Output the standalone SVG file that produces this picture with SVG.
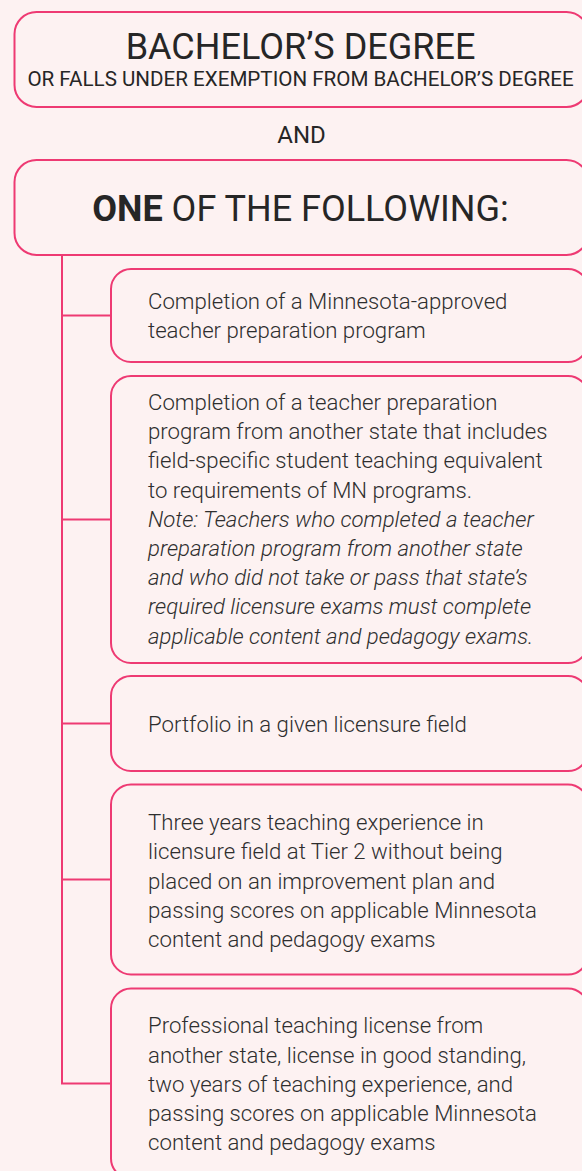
<svg xmlns="http://www.w3.org/2000/svg" width="582" height="1171" viewBox="0 0 582 1171">
<style>
.box{fill:none;stroke:#ee3a73;stroke-width:2}
.con{fill:none;stroke:#ee3a73;stroke-width:2}
.t{font-family:Roboto,"Liberation Sans",sans-serif;fill:#2e2e2e;font-weight:300}
.body{font-size:22.2px}
.it{font-style:italic}
.hd{text-anchor:middle;font-weight:400;fill:#262626}
</style>
<rect x="0" y="0" width="582" height="1171" fill="#fdf2f2"/>
<g id="connectors">
<path class="con" d="M62 255 V1083.5 H111"/>
<path class="con" d="M62 315.5 H111"/>
<path class="con" d="M62 519.5 H111"/>
<path class="con" d="M62 723.5 H111"/>
<path class="con" d="M62 879.5 H111"/>
</g>
<g id="bachelor">
<rect class="box" x="14.5" y="12" width="574" height="95" rx="22"/>
<text class="t hd" x="300.5" y="59" font-size="36">BACHELOR’S DEGREE</text>
<text class="t hd" x="300.5" y="86" font-size="20.6">OR FALLS UNDER EXEMPTION FROM BACHELOR’S DEGREE</text>
</g>
<g id="and">
<text class="t hd" x="301.5" y="143" font-size="24">AND</text>
</g>
<g id="one-of">
<rect class="box" x="14.5" y="160" width="574" height="95" rx="22"/>
<text class="t hd" x="300.5" y="221" font-size="36"><tspan font-weight="bold">ONE</tspan> OF THE FOLLOWING:</text>
</g>
<g id="opt1">
<rect class="box" x="111" y="269" width="477" height="93" rx="20"/>
<text class="t body" x="148" y="309">Completion of a Minnesota-approved</text>
<text class="t body" x="148" y="338">teacher preparation program</text>
</g>
<g id="opt2">
<rect class="box" x="111" y="376" width="477" height="287" rx="20"/>
<text class="t body" x="148" y="410">Completion of a teacher preparation</text>
<text class="t body" x="148" y="439.2">program from another state that includes</text>
<text class="t body" x="148" y="468.4">field-specific student teaching equivalent</text>
<text class="t body" x="148" y="497.6">to requirements of MN programs.</text>
<text class="t body it" x="148" y="526.8">Note: Teachers who completed a teacher</text>
<text class="t body it" x="148" y="556">preparation program from another state</text>
<text class="t body it" x="148" y="585.2">and who did not take or pass that state’s</text>
<text class="t body it" x="148" y="614.4">required licensure exams must complete</text>
<text class="t body it" x="148" y="643.6">applicable content and pedagogy exams.</text>
</g>
<g id="opt3">
<rect class="box" x="111" y="676" width="477" height="95" rx="20"/>
<text class="t body" x="148" y="731.5">Portfolio in a given licensure field</text>
</g>
<g id="opt4">
<rect class="box" x="111" y="784.5" width="477" height="190" rx="20"/>
<text class="t body" x="148" y="830">Three years teaching experience in</text>
<text class="t body" x="148" y="859.3">licensure field at Tier 2 without being</text>
<text class="t body" x="148" y="888.5">placed on an improvement plan and</text>
<text class="t body" x="148" y="917.7">passing scores on applicable Minnesota</text>
<text class="t body" x="148" y="947">content and pedagogy exams</text>
</g>
<g id="opt5">
<rect class="box" x="111" y="988.5" width="477" height="190" rx="20"/>
<text class="t body" x="148" y="1033.3">Professional teaching license from</text>
<text class="t body" x="148" y="1062.5">another state, license in good standing,</text>
<text class="t body" x="148" y="1091.7">two years of teaching experience, and</text>
<text class="t body" x="148" y="1121">passing scores on applicable Minnesota</text>
<text class="t body" x="148" y="1150">content and pedagogy exams</text>
</g>
</svg>
